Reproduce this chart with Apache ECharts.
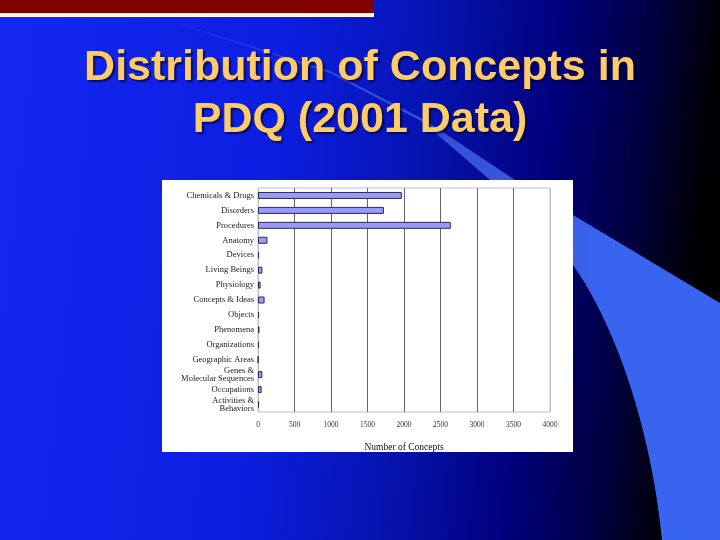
<!DOCTYPE html>
<html>
<head>
<meta charset="utf-8">
<script src="https://cdn.jsdelivr.net/npm/echarts@6/dist/echarts.min.js"></script>
<style>
html,body{margin:0;padding:0;background:#000;}
#chart{width:720px;height:540px;}
</style>
</head>
<body>
<div id="chart"></div>
<script>
var categories = ['Chemicals & Drugs','Disorders','Procedures','Anatomy','Devices','Living Beings','Physiology','Concepts & Ideas','Objects','Phenomena','Organizations','Geographic Areas','Genes &\nMolecular Sequences','Occupations','Activities &\nBehaviors'];
var conceptCounts = [1970,1725,2640,130,15,60,35,90,15,20,15,3,60,50,15];
var xTicks = [0,500,1000,1500,2000,2500,3000,3500,4000];
var titleLines = ['Distribution of Concepts in','PDQ (2001 Data)'];
var axisName = 'Number of Concepts';

// decorative swoosh outline (background art, not data)
function cubic(p0,p1,p2,p3,n){
  var out=[];
  for(var i=0;i<=n;i++){var t=i/n,u=1-t;
    out.push([u*u*u*p0[0]+3*u*u*t*p1[0]+3*u*t*t*p2[0]+t*t*t*p3[0],
              u*u*u*p0[1]+3*u*u*t*p1[1]+3*u*t*t*p2[1]+t*t*t*p3[1]]);}
  return out;
}
var swoosh = [[170,21],[330,71],[423,119],[515,180],[573,215],[720,303],[720,540],[662,540]]
  .concat(cubic([662,540],[650,420],[612,320],[573,265],20).slice(1))
  .concat(cubic([573,265],[545,225],[515,195],[490,180],10).slice(1))
  .concat([[423,122],[330,73]]);

var chart = echarts.init(document.getElementById('chart'), null, {renderer:'canvas'});
var serif = '"Liberation Serif","Times New Roman",serif';
var titleStyle = {fill:'#ffcc66',fontSize:43,fontWeight:'bold',fontFamily:'"Liberation Sans",Arial,sans-serif',textAlign:'center',textVerticalAlign:'middle',textShadowColor:'rgba(0,0,40,0.7)',textShadowOffsetX:2,textShadowOffsetY:2,textShadowBlur:2};

var option = {
  animation:false,
  backgroundColor:{type:'linear',x:0,y:0,x2:1,y2:0.15,colorStops:[
    {offset:0,color:'#1428f0'},{offset:0.4,color:'#0c1ee0'},{offset:0.6,color:'#0614b0'},
    {offset:0.78,color:'#00007a'},{offset:0.9,color:'#000040'},{offset:1,color:'#000000'}]},
  graphic:[
    {type:'polygon',z:0,shape:{points:swoosh},
     style:{fill:{type:'linear',global:true,x:250,y:0,x2:600,y2:0,colorStops:[{offset:0,color:'rgba(100,130,240,0.35)'},{offset:0.6,color:'rgba(70,105,235,0.75)'},{offset:1,color:'#3864f0'}]}}},
    {type:'rect',z:0,shape:{x:0,y:0,width:374,height:13},style:{fill:'#800000'}},
    {type:'rect',z:0,shape:{x:0,y:13,width:374,height:4},style:{fill:'#fff8e0'}},
    {type:'rect',z:1,shape:{x:162,y:180,width:411,height:272},style:{fill:'#ffffff'}},
    {type:'text',z:10,x:360,y:68,style:Object.assign({text:titleLines[0]},titleStyle)},
    {type:'text',z:10,x:360,y:120,style:Object.assign({text:titleLines[1]},titleStyle)}
  ],
  grid:{left:258,right:170,top:188,bottom:128,show:true,z:3,borderColor:'#c0c0c0',borderWidth:1,backgroundColor:'transparent'},
  xAxis:{type:'value',min:xTicks[0],max:xTicks[xTicks.length-1],interval:500,z:3,
    name:axisName,nameLocation:'middle',nameGap:30,
    nameTextStyle:{fontFamily:serif,fontSize:9.5,color:'#111'},
    axisLine:{show:false},axisTick:{show:false},
    axisLabel:{fontFamily:serif,fontSize:7.5,color:'#333',margin:9,formatter:function(v){return String(v);}},
    splitLine:{show:true,lineStyle:{width:1,color:['#c0c0c0','#666666','#666666','#666666','#666666','#666666','#666666','#666666','#c0c0c0']}}},
  yAxis:{type:'category',data:categories,inverse:true,z:3,
    axisLine:{show:false},axisTick:{show:false},splitLine:{show:false},
    axisLabel:{fontFamily:serif,fontSize:8.5,color:'#222',margin:4,lineHeight:8,interval:0}},
  series:[{type:'bar',z:4,data:conceptCounts,barWidth:7,
    itemStyle:{color:'#9999ff',borderColor:'#2a2a55',borderWidth:1}}]
};
chart.setOption(option);
</script>
</body>
</html>
